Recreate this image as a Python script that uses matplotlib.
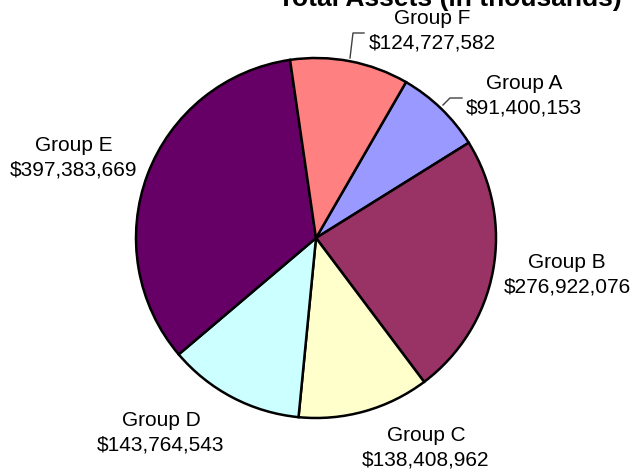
import matplotlib
matplotlib.use("Agg")
import matplotlib.pyplot as plt

plt.rcParams['font.family'] = ['Liberation Sans', 'DejaVu Sans']

groups = ["Group A", "Group B", "Group C", "Group D", "Group E", "Group F"]
values = [91400153, 276922076, 138408962, 143764543, 397383669, 124727582]
colors = ["#9999FF", "#993366", "#FFFFCC", "#CCFFFF", "#660066", "#FF8080"]
title = "Total Assets (in thousands)"

W, H = 635, 472
CX, CY, R = 316, 238, 180  # pie center & radius in pixels


def px(x, y):
    return (x - CX) / R, (CY - y) / R


fig = plt.figure(figsize=(W / 100, H / 100), dpi=100)
ax = fig.add_axes([0, 0, 1, 1])

ax.pie(values, colors=colors, startangle=60, counterclock=False, radius=1,
       center=(0, 0), wedgeprops=dict(edgecolor='black', linewidth=1.8))

ax.set_aspect('auto')
ax.set_xlim(-CX / R, (W - CX) / R)
ax.set_ylim(-(H - CY) / R, CY / R)
ax.axis('off')

# label positions (pixel centres)
label_pos = {
    "Group A": (524, 96),
    "Group B": (567, 275),
    "Group C": (426, 448),
    "Group D": (161, 433),
    "Group E": (74, 158),
    "Group F": (432, 31),
}
for g, v in zip(groups, values):
    x, y = px(*label_pos[g])
    ax.text(x, y, f"{g}\n${v:,}", ha='center', va='center', fontsize=15,
            linespacing=1.38)

# leader lines
for pts in ([(350, 58), (353, 33), (364, 33)], [(443, 105), (450, 98), (462, 98)]):
    xs, ys = zip(*[px(*p) for p in pts])
    ax.plot(xs, ys, color='#404040', lw=1)

fig.text(450 / W, 1 - 6 / H, title, ha='center', va='baseline',
         fontsize=19, fontweight='bold')

fig.savefig("out.png", dpi=100)
